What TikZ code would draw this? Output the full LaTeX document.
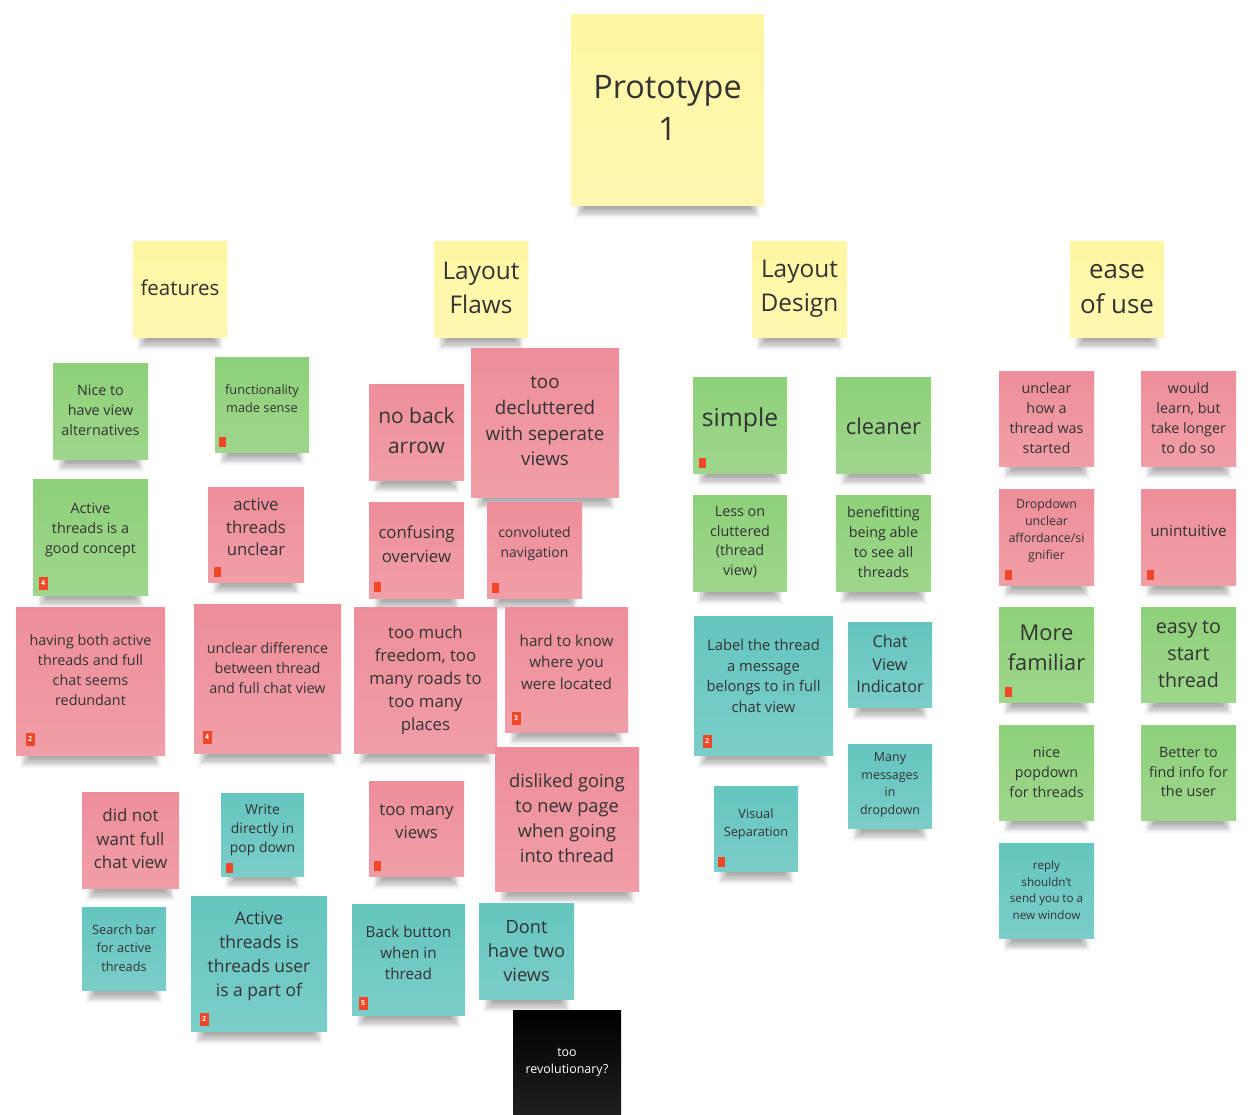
\documentclass[tikz,border=0pt]{standalone}
\usepackage{fontspec}
\setmainfont{Open Sans}
\definecolor{cYel}{HTML}{FFF6A3}
\definecolor{cGreen}{HTML}{8ED079}
\definecolor{cPink}{HTML}{EE8E9A}
\definecolor{cTeal}{HTML}{65C5BF}
\definecolor{cRed}{HTML}{F24726}
\definecolor{cText}{HTML}{333333}
\newcommand\fs[2]{\fontsize{#1}{#2}\selectfont}
\tikzset{
  stickbox/.style={rectangle, inner sep=0pt, draw=none},
  txt/.style={align=center, text=cText, inner sep=0pt},
  badge/.style={rectangle, fill=cRed, inner sep=0pt, minimum width=7bp, minimum height=10bp},
  badgenum/.style={rectangle, fill=cRed, inner sep=0pt, minimum width=9bp, minimum height=13bp,
    text=white, font=\fs{7}{8}\bfseries},
}
% sticky note: [options]{name}{colour}{x1}{y1}{x2}{y2}, with a soft drop shadow below it
\newcommand\sticky[7][]{%
  \foreach \k in {1,...,10}{%
    \fill[black,opacity=0.042] ({#4+3+1.3*\k},{#7-4}) rectangle ({#6-3-1.3*\k},{#7+14-1.3*\k});}
  \node[stickbox, top color=#3, bottom color=#3!86!white,
        minimum width={(#6-#4)*1bp}, minimum height={(#7-#5)*1bp}, #1]
        (#2) at ({(#4+#6)/2},{(#5+#7)/2}) {};%
}
\begin{document}
\begin{tikzpicture}[x=1bp,y=-1bp]
\useasboundingbox (0,0) rectangle (1256,1115);
\fill[white] (0,0) rectangle (1256,1115);
\clip (0,0) rectangle (1256,1115);

% ---- headers
\sticky{proto}{cYel}{571}{14}{764}{205}
\node[txt, font=\fs{32.5}{43}] (tproto) at (667.5,108) {Prototype\\1};
\sticky{feat}{cYel}{133}{241}{227}{337}
\node[txt, font=\fs{20.6}{28}] (tfeat) at (180,288) {features};
\sticky{lflaws}{cYel}{434}{241}{528}{337}
\node[txt, font=\fs{24.5}{34}] (tlflaws) at (481,288) {Layout\\Flaws};
\sticky{ldesign}{cYel}{752}{241}{847}{337}
\node[txt, font=\fs{24.5}{34}] (tldesign) at (799.5,289) {Layout\\Design};
\sticky{ease}{cYel}{1070}{241}{1164}{337}
\node[txt, font=\fs{26}{36}] (tease) at (1117,289) {ease\\of use};

% ---- features
\sticky{nice}{cGreen}{53}{363}{148}{459}
\node[txt, font=\fs{14.4}{20}] (tnice) at (100.5,410) {Nice to\\have view\\alternatives};
\sticky{func}{cGreen}{215}{357}{309}{452}
\node[txt, font=\fs{12.8}{18}] (tfunc) at (262,399) {functionality\\made sense};
\node[badge] (bfunc) at (222,442) {};
\sticky{goodc}{cGreen}{33}{479}{148}{595}
\node[txt, font=\fs{14.4}{20}] (tgoodc) at (90.5,530) {Active\\threads is a\\good concept};
\node[badgenum] (bgoodc) at (43,583) {4};
\sticky{atu}{cPink}{208}{487}{304}{582}
\node[txt, font=\fs{16.8}{23}] (tatu) at (256,527) {active\\threads\\unclear};
\node[badge] (batu) at (217,572) {};
\sticky{redund}{cPink}{16}{607}{165}{755}
\node[txt, font=\fs{14.4}{20}] (tredund) at (90.5,670) {having both active\\threads and full\\chat seems\\redundant};
\node[badgenum] (bredund) at (30,739) {2};
\sticky{udiff}{cPink}{194}{604}{341}{753}
\node[txt, font=\fs{14.4}{20}] (tudiff) at (267.5,668) {unclear difference\\between thread\\and full chat view};
\node[badgenum] (budiff) at (207,737) {4};
\sticky{dnw}{cPink}{82}{792}{179}{888}
\node[txt, font=\fs{17}{23.5}] (tdnw) at (130.5,839) {did not\\want full\\chat view};
\sticky{wdir}{cTeal}{221}{793}{304}{876}
\node[txt, font=\fs{14}{19.5}] (twdir) at (262.5,830) {Write\\directly in\\pop down};
\node[badge] (bwdir) at (229,868) {};
\sticky{search}{cTeal}{82}{907}{166}{990}
\node[txt, font=\fs{12.8}{18.5}] (tsearch) at (124,948) {Search bar\\for active\\threads};
\sticky{atuser}{cTeal}{191}{896}{327}{1031}
\node[txt, font=\fs{17.5}{24}] (tatuser) at (259,956) {Active\\threads is\\threads user\\is a part of};
\node[badgenum] (batuser) at (204,1019) {2};

% ---- layout flaws
\sticky{nba}{cPink}{369}{384}{464}{480}
\node[txt, font=\fs{21}{30}] (tnba) at (416.5,431) {no back\\arrow};
\sticky{declut}{cPink}{471}{348}{619}{497}
\node[txt, font=\fs{18.8}{26}] (tdeclut) at (545,421) {too\\decluttered\\with seperate\\views};
\sticky{confov}{cPink}{369}{502}{464}{598}
\node[txt, font=\fs{16.8}{23.5}] (tconfov) at (416.5,544) {confusing\\overview};
\node[badge] (bconfov) at (377,587) {};
\sticky{convnav}{cPink}{487}{502}{582}{598}
\node[txt, font=\fs{14}{20}] (tconvnav) at (534.5,544) {convoluted\\navigation};
\node[badge] (bconvnav) at (495,588) {};
\sticky{freedom}{cPink}{354}{607}{497}{753}
\node[txt, font=\fs{16.8}{23}] (tfreedom) at (425.5,680) {too much\\freedom, too\\many roads to\\too many\\places};
\sticky{hard}{cPink}{505}{607}{628}{732}
\node[txt, font=\fs{15.3}{21.5}] (thard) at (566.5,662) {hard to know\\where you\\were located};
\node[badgenum] (bhard) at (516,718) {3};
\sticky{tmv}{cPink}{369}{781}{464}{876}
\node[txt, font=\fs{16.8}{23}] (ttmv) at (416.5,822) {too many\\views};
\node[badge] (btmv) at (377,866) {};
\sticky{disliked}{cPink}{495}{747}{639}{891}
\node[txt, font=\fs{18.3}{25}] (tdisliked) at (567,818) {disliked going\\to new page\\when going\\into thread};
\sticky{backbtn}{cTeal}{352}{904}{465}{1015}
\node[txt, font=\fs{15.3}{21}] (tbackbtn) at (408.5,953) {Back button\\when in\\thread};
\node[badgenum] (bbackbtn) at (363,1003) {5};
\sticky{dont}{cTeal}{479}{903}{574}{999}
\node[txt, font=\fs{18.3}{24.5}] (tdont) at (526.5,951) {Dont\\have two\\views};
\sticky{revol}{black}{513}{1010}{621}{1130}
\node[txt, text=white, font=\fs{12.5}{17}] (trevol) at (567,1062) {too\\revolutionary?};

% ---- layout design
\sticky{simple}{cGreen}{693}{377}{787}{473}
\node[txt, font=\fs{24.8}{30}] (tsimple) at (740,420) {simple};
\node[badge] (bsimple) at (702,463) {};
\sticky{cleaner}{cGreen}{836}{377}{931}{473}
\node[txt, font=\fs{22}{30}] (tcleaner) at (883.5,426) {cleaner};
\sticky{lessc}{cGreen}{693}{495}{787}{591}
\node[txt, font=\fs{14.4}{20}] (tlessc) at (740,542) {Less on\\cluttered\\(thread\\view)};
\sticky{benef}{cGreen}{836}{495}{931}{591}
\node[txt, font=\fs{14.4}{20}] (tbenef) at (883.5,542) {benefitting\\being able\\to see all\\threads};
\sticky{label}{cTeal}{694}{616}{833}{755}
\node[txt, font=\fs{14.8}{20.7}] (tlabel) at (763.5,676) {Label the thread\\a message\\belongs to in full\\chat view};
\node[badgenum] (blabel) at (707,741) {2};
\sticky{cvi}{cTeal}{848}{622}{932}{707}
\node[txt, font=\fs{16.3}{22.5}] (tcvi) at (890,664) {Chat\\View\\Indicator};
\sticky{many}{cTeal}{848}{744}{932}{828}
\node[txt, font=\fs{12.5}{17.5}] (tmany) at (890,785) {Many\\messages\\in\\dropdown};
\sticky{visual}{cTeal}{714}{786}{798}{871}
\node[txt, font=\fs{12.8}{18}] (tvisual) at (756,824) {Visual\\Separation};
\node[badge] (bvisual) at (721,862) {};

% ---- ease of use
\sticky{uhow}{cPink}{999}{371}{1094}{466}
\node[txt, font=\fs{14.4}{20}] (tuhow) at (1046.5,418) {unclear\\how a\\thread was\\started};
\sticky{wlearn}{cPink}{1141}{371}{1236}{466}
\node[txt, font=\fs{14.4}{20}] (twlearn) at (1188.5,418) {would\\learn, but\\take longer\\to do so};
\sticky{dropd}{cPink}{999}{489}{1094}{585}
\node[txt, font=\fs{12.4}{17}] (tdropd) at (1046.5,531) {Dropdown\\unclear\\affordance/si\\gnifier};
\node[badge] (bdropd) at (1008,575) {};
\sticky{unint}{cPink}{1141}{489}{1236}{585}
\node[txt, font=\fs{15.4}{21}] (tunint) at (1188.5,531) {unintuitive};
\node[badge] (bunint) at (1150,575) {};
\sticky{morefam}{cGreen}{999}{607}{1094}{702}
\node[txt, font=\fs{21.9}{30}] (tmorefam) at (1046.5,648) {More\\familiar};
\node[badge] (bmorefam) at (1008,692) {};
\sticky{easyst}{cGreen}{1141}{607}{1236}{702}
\node[txt, font=\fs{19.7}{27}] (teasyst) at (1188.5,654) {easy to\\start\\thread};
\sticky{nicepop}{cGreen}{999}{725}{1094}{820}
\node[txt, font=\fs{14.4}{20}] (tnicepop) at (1046.5,772) {nice\\popdown\\for threads};
\sticky{better}{cGreen}{1141}{725}{1236}{820}
\node[txt, font=\fs{14.4}{20}] (tbetter) at (1188.5,772) {Better to\\find info for\\the user};
\sticky{reply}{cTeal}{999}{843}{1094}{938}
\node[txt, font=\fs{11.7}{16.5}] (treply) at (1046.5,890) {reply\\shouldn't\\send you to a\\new window};
\end{tikzpicture}
\end{document}
